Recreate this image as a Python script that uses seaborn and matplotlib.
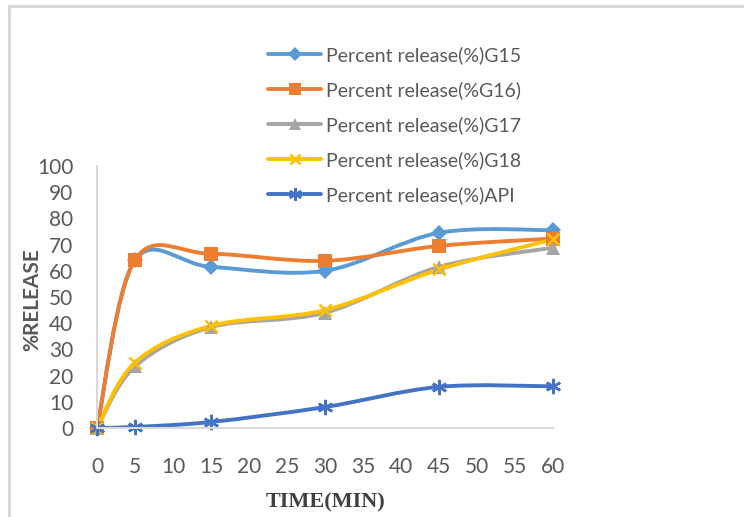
import numpy as np
import seaborn as sns
import matplotlib.pyplot as plt
from matplotlib.path import Path
from matplotlib.patches import PathPatch
from matplotlib.lines import Line2D

# dados
tempo = [0, 5, 15, 30, 45, 60]
g15 = [0, 64.0, 61.5, 60.0, 74.5, 75.5]
g16 = [0, 64.2, 66.5, 63.8, 69.5, 72.3]
g17 = [0, 23.5, 38.5, 44.0, 61.5, 68.8]
g18 = [0, 25.0, 39.0, 45.0, 60.5, 72.0]
api = [0, 0.4, 2.3, 8.0, 15.7, 15.9]

rotulos = ["Percent release(%)G15", "Percent release(%G16)", "Percent release(%)G17",
           "Percent release(%)G18", "Percent release(%)API"]
cores = ["#5B9BD5", "#ED7D31", "#A5A5A5", "#FFC000", "#4472C4"]
marcadores = ["D", "s", "^", "x", (6, 2, 0)]
tam_marc = [8, 10, 10, 9, 11]
series = [g15, g16, g17, g18, api]

sns.set_style("white")
plt.rcParams["font.family"] = ["Lato", "DejaVu Sans"]


def caminho_suave(xs, ys):
    # curva suavizada tipo Excel (Catmull-Rom convertida em Bezier)
    p = np.column_stack([xs, ys]).astype(float)
    p_ext = np.vstack([p[0], p, p[-1]])
    verts = [p[0]]
    codes = [Path.MOVETO]
    for i in range(1, len(p_ext) - 2):
        p0, p1, p2, p3 = p_ext[i - 1], p_ext[i], p_ext[i + 1], p_ext[i + 2]
        c1 = p1 + (p2 - p0) / 6
        c2 = p2 - (p3 - p1) / 6
        verts += [c1, c2, p2]
        codes += [Path.CURVE4] * 3
    return Path(verts, codes)


fig = plt.figure(figsize=(7.44, 5.17), dpi=100)
ax = fig.add_axes([97 / 744, 1 - 428 / 517, 456 / 744, 262 / 517])

for ys, cor, mk, ms in zip(series, cores, marcadores, tam_marc):
    ax.add_patch(PathPatch(caminho_suave(tempo, ys), facecolor="none", edgecolor=cor,
                           lw=2.8, capstyle="round", joinstyle="round"))
    mew = 1.8 if mk in ("x", (6, 2, 0)) else 0
    ax.plot(tempo, ys, linestyle="none", marker=mk, markersize=ms, color=cor,
            markeredgewidth=mew, clip_on=False)

ax.set_xlim(0, 60)
ax.set_ylim(0, 100)
ax.set_xticks(np.arange(0, 61, 5))
ax.set_yticks(np.arange(0, 101, 10))
ax.tick_params(axis="x", length=0, pad=21, labelsize=15, labelcolor="#595959")
ax.tick_params(axis="y", length=0, pad=17, labelsize=15, labelcolor="#595959")
for lado in ["top", "right"]:
    ax.spines[lado].set_visible(False)
for lado in ["left", "bottom"]:
    ax.spines[lado].set_color("#D9D9D9")
    ax.spines[lado].set_linewidth(1.5)

ax.set_xlabel("TIME(MIN)", fontsize=16, fontweight="bold", color="#404040",
              family=["Liberation Serif", "DejaVu Serif"])
ax.xaxis.set_label_coords(0.502, -0.245)
ax.set_ylabel("%RELEASE", fontsize=15, fontweight="bold", color="#595959")
ax.yaxis.set_label_coords(-0.12, 0.49)

# legenda
handles = [Line2D([], [], color=c, lw=2.8, marker=m, markersize=s * 0.85,
                  markeredgewidth=(1.8 if m in ("x", (6, 2, 0)) else 0))
           for c, m, s in zip(cores, marcadores, tam_marc)]
fig.legend(handles, rotulos, loc="upper left", bbox_to_anchor=(260 / 744, 1 - 38 / 517),
           frameon=False, fontsize=14, labelcolor="#595959", handlelength=2.75,
           handletextpad=0.25, labelspacing=0.88, borderaxespad=0)

# moldura recortada do grafico original
fig.add_artist(Line2D([9 / 744, 1], [1 - 6 / 517, 1 - 6 / 517], color="#D9D9D9", lw=2.2))
fig.add_artist(Line2D([9 / 744, 9 / 744], [0, 1 - 6 / 517], color="#D9D9D9", lw=2.2))

fig.savefig("out.png", dpi=100)
